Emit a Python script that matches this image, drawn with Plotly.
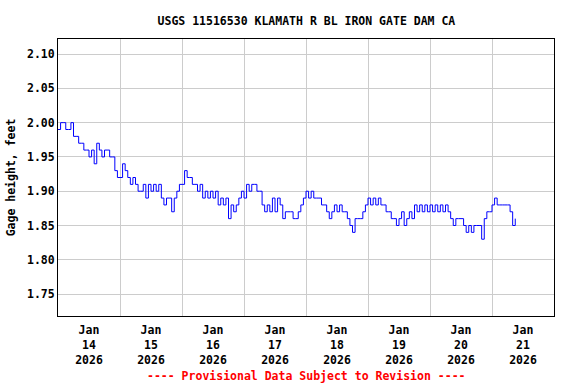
import pandas as pd
import plotly.graph_objects as go

# Hourly gage height (feet), starting 2026-01-14 00:00
jan14 = [1.99, 2.00, 2.00, 1.99, 1.99, 2.00, 1.98, 1.98, 1.97, 1.97, 1.96, 1.96,
         1.95, 1.96, 1.94, 1.97, 1.96, 1.95, 1.96, 1.96, 1.95, 1.95, 1.93, 1.92]
jan15 = [1.92, 1.94, 1.93, 1.92, 1.91, 1.92, 1.91, 1.90, 1.90, 1.91, 1.89, 1.91,
         1.90, 1.91, 1.90, 1.91, 1.89, 1.88, 1.89, 1.89, 1.87, 1.89, 1.90, 1.91]
jan16 = [1.91, 1.93, 1.92, 1.92, 1.91, 1.91, 1.90, 1.91, 1.89, 1.90, 1.89, 1.90,
         1.89, 1.90, 1.88, 1.89, 1.88, 1.89, 1.86, 1.88, 1.87, 1.88, 1.89, 1.90]
jan17 = [1.89, 1.91, 1.90, 1.91, 1.91, 1.90, 1.90, 1.88, 1.87, 1.88, 1.87, 1.89,
         1.87, 1.89, 1.88, 1.86, 1.87, 1.87, 1.87, 1.86, 1.86, 1.87, 1.88, 1.89]
jan18 = [1.90, 1.89, 1.90, 1.89, 1.89, 1.89, 1.88, 1.88, 1.87, 1.86, 1.87, 1.88,
         1.87, 1.88, 1.87, 1.87, 1.86, 1.85, 1.84, 1.86, 1.86, 1.86, 1.87, 1.88]
jan19 = [1.89, 1.88, 1.89, 1.88, 1.89, 1.88, 1.88, 1.87, 1.87, 1.86, 1.86, 1.85,
         1.86, 1.87, 1.85, 1.86, 1.87, 1.86, 1.88, 1.87, 1.88, 1.87, 1.88, 1.87]
jan20 = [1.88, 1.87, 1.88, 1.87, 1.88, 1.87, 1.88, 1.87, 1.86, 1.85, 1.86, 1.86,
         1.86, 1.85, 1.84, 1.85, 1.84, 1.85, 1.85, 1.85, 1.83, 1.86, 1.87, 1.87]
jan21 = [1.88, 1.89, 1.88, 1.88, 1.88, 1.88, 1.88, 1.87, 1.85, 1.86]

gage_height = jan14 + jan15 + jan16 + jan17 + jan18 + jan19 + jan20 + jan21
times = pd.date_range("2026-01-14 00:00", periods=len(gage_height), freq="h")

tick_days = ["14", "15", "16", "17", "18", "19", "20", "21"]
tick_vals = [f"2026-01-{d} 12:00" for d in tick_days]
tick_text = [f"Jan<br>{d}<br>2026" for d in tick_days]
y_ticks = [1.75, 1.80, 1.85, 1.90, 1.95, 2.00, 2.05, 2.10]

title_text = "USGS 11516530 KLAMATH R BL IRON GATE DAM CA"
y_title = "Gage height, feet"
footer = "---- Provisional Data Subject to Revision ----"

MONO = "DejaVu Sans Mono"

fig = go.Figure(go.Scatter(
    x=times, y=gage_height, mode="lines",
    line=dict(color="#0000ff", width=1, shape="hv"),
    hoverinfo="skip", showlegend=False,
))

fig.update_layout(
    width=576, height=384,
    margin=dict(l=58, r=22, t=39, b=68),
    paper_bgcolor="white", plot_bgcolor="white",
    font=dict(family=MONO, size=11.5, color="black", weight="bold"),
    title=dict(text=title_text, x=0.532, xanchor="center", y=1 - 21 / 384,
               yanchor="middle", font=dict(family=MONO, size=11.5, weight="bold")),
    annotations=[dict(text=footer, xref="paper", yref="paper",
                      x=0.5, y=-0.218, xanchor="center", yanchor="middle",
                      showarrow=False,
                      font=dict(family=MONO, size=11.5, color="#ff0000", weight="bold"))],
)

fig.update_xaxes(
    range=["2026-01-14 00:00", "2026-01-22 00:00"],
    tickmode="array", tickvals=tick_vals, ticktext=tick_text,
    showgrid=False, ticks="", ticklabelstandoff=3,
    minor=dict(dtick=86400000, tick0="2026-01-14", showgrid=True,
               gridcolor="#cccccc", gridwidth=1, ticks=""),
    showline=True, linecolor="black", linewidth=1, mirror=True,
    zeroline=False, tickangle=0,
)
fig.update_yaxes(
    range=[1.718, 2.122],
    tickmode="array", tickvals=y_ticks, ticktext=[f"{v:.2f}" for v in y_ticks],
    showgrid=True, gridcolor="#cccccc", gridwidth=1, ticks="",
    showline=True, linecolor="black", linewidth=1, mirror=True,
    zeroline=False,
    title=dict(text=y_title, standoff=8, font=dict(family=MONO, size=11.5, weight="bold")),
)

fig.write_html("out.html")
